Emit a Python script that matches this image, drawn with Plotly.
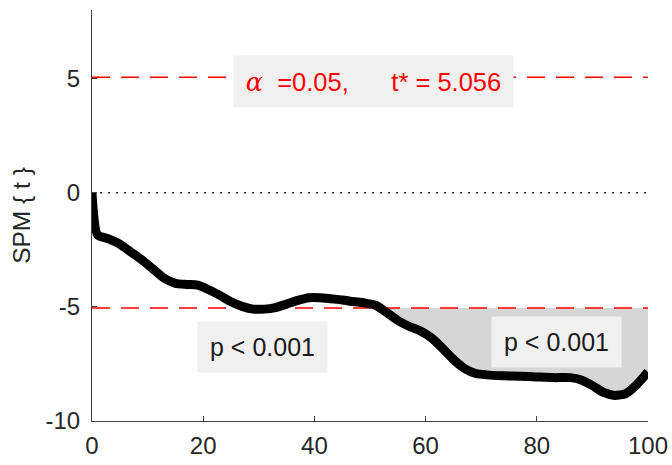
import numpy as np
import plotly.graph_objects as go

# Data
x_vals = [0, 1, 3, 5, 7, 9, 11, 13, 15, 17, 19, 21, 23, 25, 27, 29, 31, 33, 35, 37, 39, 41, 43, 45,
          47, 49, 51, 53, 55, 57, 59, 61, 63, 65, 67, 69, 71, 74, 77, 80, 83, 86, 88, 90, 92, 94,
          96, 98, 100]
spm_t = [0, -1.85, -2.02, -2.25, -2.6, -2.95, -3.35, -3.75, -3.97, -4.02, -4.05, -4.25, -4.5,
         -4.78, -4.98, -5.1, -5.1, -5.03, -4.88, -4.72, -4.6, -4.6, -4.65, -4.7, -4.77, -4.83,
         -4.93, -5.25, -5.6, -5.85, -6.05, -6.35, -6.8, -7.3, -7.7, -7.92, -7.98, -8.02, -8.04,
         -8.07, -8.1, -8.1, -8.2, -8.45, -8.75, -8.88, -8.8, -8.4, -7.85]
alpha = 0.05
t_star = 5.056
cluster_labels = ["p < 0.001", "p < 0.001"]
cluster_label_pos = [(30.7, -6.75), (83.5, -6.55)]
x_ticks = [0, 20, 40, 60, 80, 100]
y_ticks = [-10, -5, 0, 5]
y_tick_text = ["-10", "-5", "0", "5"]

x = np.array(x_vals, float)
y = np.array(spm_t, float)

# suprathreshold fill polygon (below -t*)
fx, fy = [], []
for i in range(len(x)):
    if i > 0:
        a, b = y[i - 1] + t_star, y[i] + t_star
        if a * b < 0:
            xc = x[i - 1] + (x[i] - x[i - 1]) * a / (a - b)
            fx.append(xc); fy.append(-t_star)
    fx.append(x[i]); fy.append(min(y[i], -t_star))

FONT = "Liberation Sans, Arial, Helvetica"
fig = go.Figure()
fig.add_trace(go.Scatter(x=[x[0], x[-1]], y=[-t_star, -t_star], mode="lines",
                         line=dict(color="rgba(0,0,0,0)", width=0), showlegend=False,
                         hoverinfo="skip"))
fig.add_trace(go.Scatter(x=fx, y=fy, mode="lines", line=dict(width=0, color="rgba(0,0,0,0)"),
                         fill="tonexty", fillcolor="#d6d6d6", showlegend=False, hoverinfo="skip"))
# zero line
fig.add_trace(go.Scatter(x=[0, 100], y=[0, 0], mode="lines",
                         line=dict(color="#222222", width=1.5, dash="2px,6px"), showlegend=False))
# thresholds
for yy in (t_star, -t_star):
    fig.add_trace(go.Scatter(x=[0, 100], y=[yy, yy], mode="lines",
                             line=dict(color="#ff0000", width=1.5, dash="18px,11px"),
                             showlegend=False))
# SPM curve
fig.add_trace(go.Scatter(x=x, y=y, mode="lines",
                         line=dict(color="black", width=9, shape="spline", smoothing=0.6),
                         showlegend=False))

fig.add_annotation(x=50.6, y=4.87, xref="x", yref="y", showarrow=False,
                   text=f"<span style='font-family:\"DejaVu Serif\"'><i>α</i></span>  ={alpha:.2f},      t* = {t_star:.3f}",
                   font=dict(family=FONT, size=25.5, color="#ff0000"),
                   bgcolor="#f0f0f0", width=279, height=51, borderpad=0)
for lab, (lx, ly) in zip(cluster_labels, cluster_label_pos):
    fig.add_annotation(x=lx, y=ly, xref="x", yref="y", showarrow=False, text=lab,
                       font=dict(family=FONT, size=25, color="#1a1a1a"),
                       bgcolor="#f0f0f0", width=129, height=50, borderpad=0)

axis_common = dict(showline=True, linecolor="#404040", linewidth=1.2, ticks="inside", ticklen=5,
                   tickcolor="#404040", showgrid=False, zeroline=False, automargin=False,
                   tickfont=dict(family=FONT, size=24, color="#262626"))
fig.update_xaxes(range=[0, 100], tickvals=x_ticks, ticklabelstandoff=3, **axis_common)
fig.update_yaxes(range=[-10, 8], tickvals=y_ticks, ticktext=y_tick_text, ticklabelstandoff=6,
                 title=dict(text="SPM { t }", font=dict(family=FONT, size=24.5, color="#262626"),
                            standoff=7),
                 **axis_common)
fig.update_layout(width=672, height=465, margin=dict(l=92, r=24, t=10, b=44),
                  plot_bgcolor="white", paper_bgcolor="white", showlegend=False)
fig.write_html("out.html", config={"displayModeBar": False})

with open("out.html", "r", encoding="utf-8") as f:
    html = f.read()
html = html.replace("<head>", "<head><style>html,body{margin:0;padding:0;overflow:hidden}</style>", 1)
with open("out.html", "w", encoding="utf-8") as f:
    f.write(html)
